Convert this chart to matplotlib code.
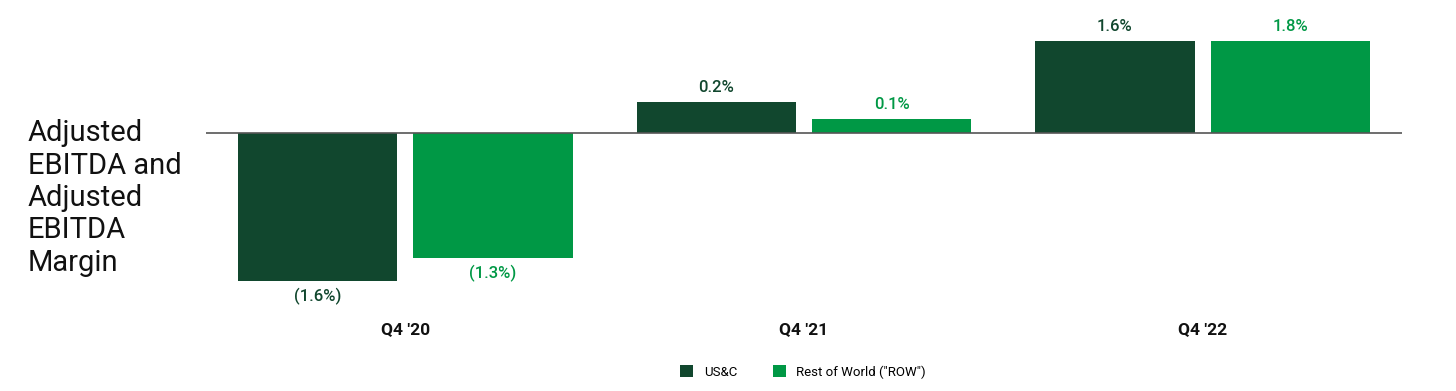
import numpy as np
import matplotlib.pyplot as plt

plt.rcParams['font.family'] = ['Roboto', 'DejaVu Sans']

quarters = ["Q4 '20", "Q4 '21", "Q4 '22"]
series = ['US&C', 'Rest of World ("ROW")']
# bar heights as drawn (relative units, bars are not to the margin scale)
usc_height = [-148, 31, 92]
row_height = [-125, 14, 92]
usc_labels = ['(1.6%)', '0.2%', '1.6%']
row_labels = ['(1.3%)', '0.1%', '1.8%']

dark = '#11472e'
bright = '#009845'

fig = plt.figure(figsize=(14.56, 3.91), dpi=100)
ax = fig.add_axes([206/1456, 0, (1402-206)/1456, 1])
ax.set_xlim(-0.5, 2.5)
ax.set_ylim(-258, 133)
ax.axis('off')

x = np.arange(len(quarters))
w = 0.40
off = 0.22
b1 = ax.bar(x - off, usc_height, w, color=dark, label=series[0], zorder=2)
b2 = ax.bar(x + off, row_height, w, color=bright, label=series[1], zorder=2)
ax.axhline(0, color='#555555', lw=1.2, zorder=3)

for bars, labels, c in [(b1, usc_labels, dark), (b2, row_labels, bright)]:
    for rect, lab in zip(bars, labels):
        h = rect.get_height()
        xc = rect.get_x() + rect.get_width()/2
        if h >= 0:
            ax.annotate(lab, (xc, h), xytext=(0, 5), textcoords='offset points',
                        ha='center', va='bottom', fontsize=12, fontweight='medium', color=c)
        else:
            ax.annotate(lab, (xc, h), xytext=(0, -5), textcoords='offset points',
                        ha='center', va='top', fontsize=12, fontweight='medium', color=c)

for xi, q in zip(x, quarters):
    fig.text((206 + (xi + 0.5)*398.7)/1456, 1 - 330/391, q, ha='center', va='center',
             fontsize=12.5, fontweight='bold', color='#111111')

fig.text(28/1456, 1 - 198/391, 'Adjusted\nEBITDA and\nAdjusted\nEBITDA\nMargin',
         ha='left', va='center', fontsize=21, linespacing=1.2, color='#111111')

fig.legend(handles=[b1, b2], loc='center', bbox_to_anchor=(803/1456, 1 - 372/391),
           ncol=2, frameon=False, fontsize=9.5, handlelength=1.0, handleheight=1.0,
           columnspacing=2.7, handletextpad=0.8)

fig.savefig('out.png', dpi=100)
